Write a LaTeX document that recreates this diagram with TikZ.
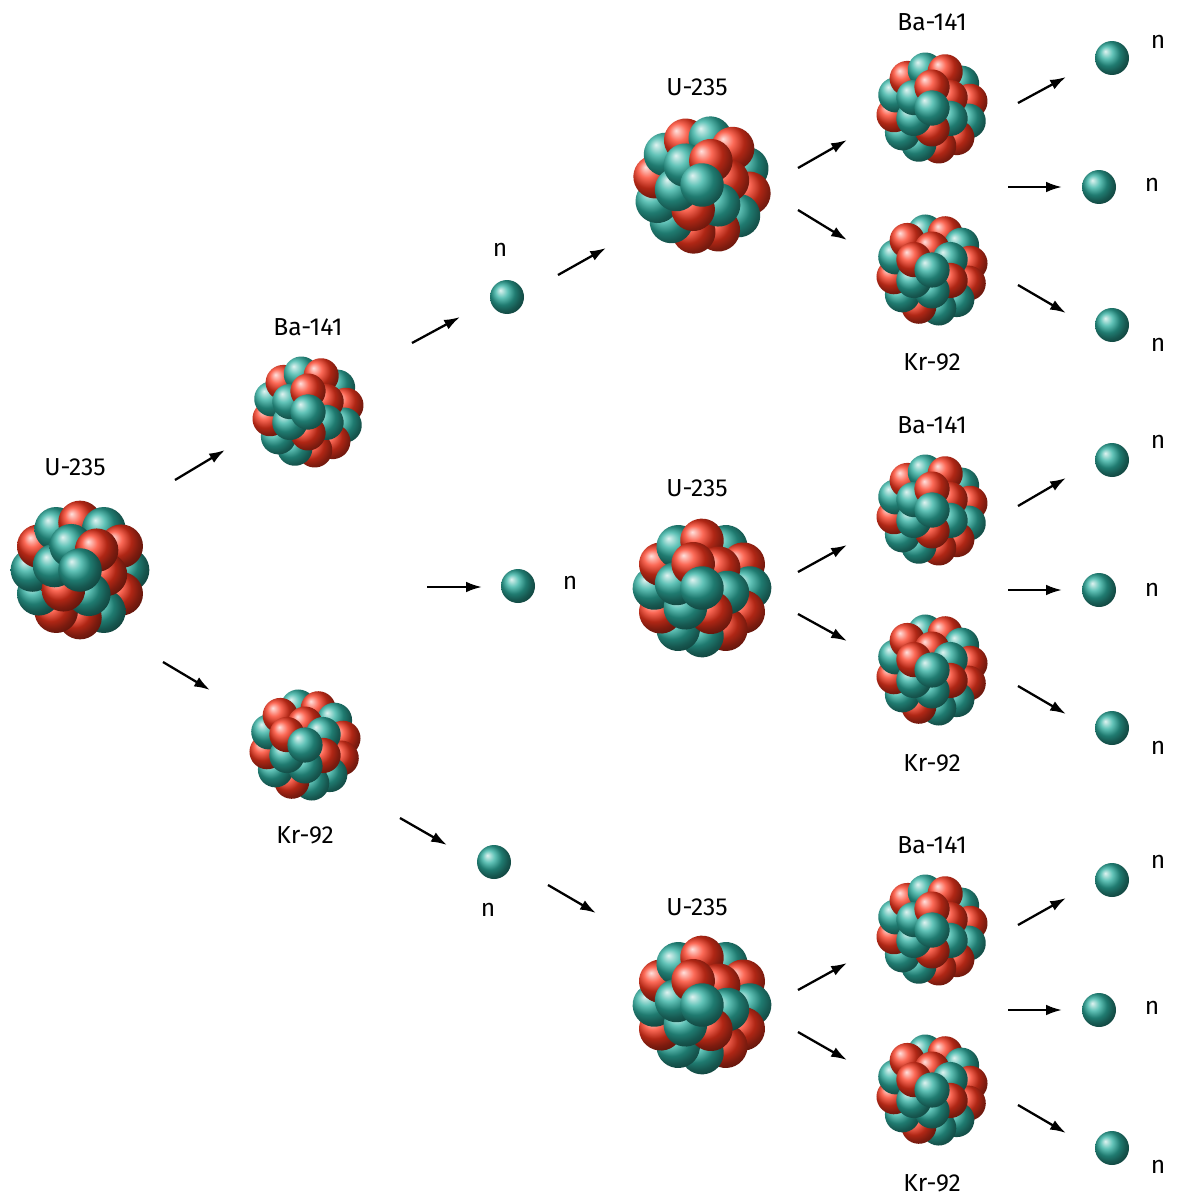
\documentclass[tikz,border=0pt]{standalone}
\usepackage{fontspec}
\setmainfont{Fira Sans}
\definecolor{nt}{RGB}{45,175,160}
\definecolor{nr}{RGB}{250,55,30}
\newcommand\nuc[5]{%
 \begin{scope}[shift={(#2,#3)},rotate=#5]
 \node[circle,minimum size={2*#4*0.02cm},inner sep=0pt] (#1) at (0,0) {};
 \foreach \a/\c [count=\i] in {0/nt,30/nr,60/nt,90/nr,120/nr,150/nt,180/nt,210/nr,240/nt,270/nr,300/nt,330/nr}
  \shade[ball color=\c] (\a:{0.7*#4}) circle[radius={0.32*#4*0.02cm}];
 \foreach \a/\c in {10/nr,70/nt,130/nr,190/nt,250/nt,310/nr}
  \shade[ball color=\c] (\a:{0.38*#4}) circle[radius={0.32*#4*0.02cm}];
 \shade[ball color=nt] (0,0) circle[radius={0.32*#4*0.02cm}];
 \end{scope}}
\tikzset{lab/.style={font=\fontsize{14}{17}\selectfont\mdseries},
 neu/.style={circle,ball color=nt,minimum size=0.68cm,inner sep=0pt},
 arr/.style={-{Latex[length=9pt,width=6pt]},line width=1.3pt}}
\usetikzlibrary{arrows.meta}
\begin{document}
\begin{tikzpicture}[x=0.02cm,y=-0.02cm]
\useasboundingbox[fill=white] (0,0) rectangle (1178,1200);
\nuc{u0}{80}{570}{68}{0}
\nuc{ba0}{308}{412}{55}{40}
\nuc{kr0}{305}{745}{55}{100}
\nuc{u1}{702}{185}{68}{20}
\nuc{u2}{702}{588}{68}{60}
\nuc{u3}{702}{1005}{68}{60}
\nuc{ba1}{932}{108}{55}{40}
\nuc{kr1}{932}{270}{55}{100}
\nuc{ba2}{932}{510}{55}{40}
\nuc{kr2}{932}{670}{55}{100}
\nuc{ba3}{932}{930}{55}{40}
\nuc{kr3}{932}{1090}{55}{100}
\node[lab] (lu0) at (75,467) {U-235};
\node[lab] (lba0) at (308,327) {Ba-141};
\node[lab] (lkr0) at (305,835) {Kr-92};
\node[lab] (lu1) at (697,87) {U-235};
\node[lab] (lu2) at (697,488) {U-235};
\node[lab] (lu3) at (697,907) {U-235};
\node[lab] (lba1) at (932,22) {Ba-141};
\node[lab] (lkr1) at (932,362) {Kr-92};
\node[lab] (lba2) at (932,425) {Ba-141};
\node[lab] (lkr2) at (932,763) {Kr-92};
\node[lab] (lba3) at (932,845) {Ba-141};
\node[lab] (lkr3) at (932,1183) {Kr-92};
\foreach \nm/\x/\y/\lx/\ly in {na/507/297/500/250, nb/518/586/570/583, nc/494/862/488/910,
  r1/1112/58/1158/42, r2/1099/187/1152/185, r3/1112/325/1158/345,
  r4/1112/460/1158/442, r5/1099/590/1152/590, r6/1112/728/1158/748,
  r7/1112/880/1158/862, r8/1099/1010/1152/1008, r9/1112/1148/1158/1167}
 {\node[neu] (\nm) at (\x,\y) {}; \node[lab] (l\nm) at (\lx,\ly) {n};}
\foreach \i/\a/\b/\c/\d in {1/175/480/225/450, 2/163/662/210/690, 3/412/343/460/317, 4/558/275/606/248,
  5/427/587/482/587, 6/400/818/447/845, 7/548/885/596/913,
  8/798/168/847/140, 9/798/210/847/240, 10/798/572/847/545, 11/798/614/847/641,
  12/798/990/847/963, 13/798/1032/847/1060,
  14/1018/103/1066/77, 15/1008/187/1062/187, 16/1018/285/1066/313,
  17/1018/506/1066/478, 18/1008/590/1062/590, 19/1018/686/1066/714,
  20/1018/925/1066/898, 21/1008/1010/1062/1010, 22/1018/1105/1066/1133}
 {\coordinate (s\i) at (\a,\b); \coordinate (e\i) at (\c,\d); \draw[arr] (s\i) -- (e\i);}
\end{tikzpicture}
\end{document}
